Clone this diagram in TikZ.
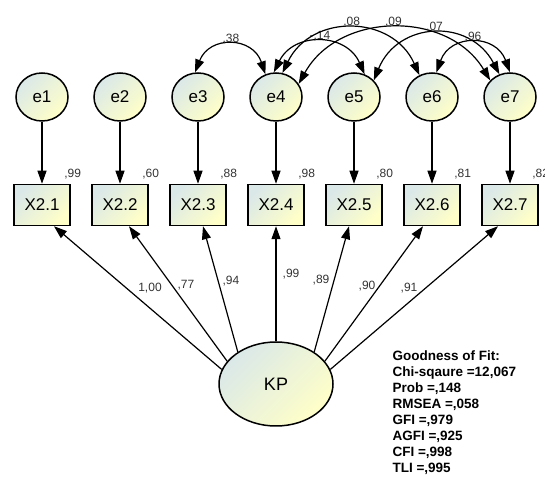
\documentclass[tikz,border=0pt]{standalone}
\usepackage{fontspec}
\setmainfont{Liberation Sans}
\usepackage{tikz}
\usetikzlibrary{shapes, positioning, arrows.meta}

\definecolor{amosblue}{RGB}{218,232,232}
\definecolor{amosyellow}{RGB}{255,255,200}

\tikzset{
    shaded/.style = {top color=amosblue, bottom color=amosyellow, shading angle=45},
    err/.style = {draw, ellipse, shaded, line width=1.5pt, minimum width=52pt, minimum height=48pt, inner sep=0pt, font=\fontsize{17}{17}\selectfont},
    obs/.style = {draw, rectangle, shaded, line width=1.5pt, minimum width=56pt, minimum height=41pt, inner sep=0pt, font=\fontsize{17}{17}\selectfont},
    lat/.style = {draw, ellipse, shaded, line width=1.5pt, minimum width=114pt, minimum height=84pt, inner sep=0pt, font=\fontsize{18}{18}\selectfont},
    lbl/.style = {inner sep=1pt, font=\fontsize{12}{12}\selectfont, text=black!80},
    gofbox/.style = {anchor=north west, align=left, inner sep=0pt, font=\fontsize{13.5}{16}\selectfont\bfseries}
}

\begin{document}
\begin{tikzpicture}[x=1pt, y=1pt, node distance={78pt}, line width=1.2pt, >={Triangle[length=13pt, width=9pt]}]
    \useasboundingbox (0,0) rectangle (545,481);

    % error terms
    \node[err] (e1) at (42,384) {e1};
    \node[err] (e2) [right of=e1] {e2};
    \node[err] (e3) [right of=e2] {e3};
    \node[err] (e4) [right of=e3] {e4};
    \node[err] (e5) [right of=e4] {e5};
    \node[err] (e6) [right of=e5] {e6};
    \node[err] (e7) [right of=e6] {e7};

    % indicators
    \node[obs] (x1) [node distance=108pt, below of=e1] {X2.1};
    \node[obs] (x2) [right of=x1] {X2.2};
    \node[obs] (x3) [right of=x2] {X2.3};
    \node[obs] (x4) [right of=x3] {X2.4};
    \node[obs] (x5) [right of=x4] {X2.5};
    \node[obs] (x6) [right of=x5] {X2.6};
    \node[obs] (x7) [right of=x6] {X2.7};

    \node[lat] (kp) at (276,97) {KP};

    % squared multiple correlations
    \node[lbl] (r1) [above right=3pt and -8pt of x1.north east] {,99};
    \node[lbl] (r2) [above right=3pt and -8pt of x2.north east] {,60};
    \node[lbl] (r3) [above right=3pt and -8pt of x3.north east] {,88};
    \node[lbl] (r4) [above right=3pt and -8pt of x4.north east] {,98};
    \node[lbl] (r5) [above right=3pt and -8pt of x5.north east] {,80};
    \node[lbl] (r6) [above right=3pt and -8pt of x6.north east] {,81};
    \node[lbl] (r7) [above right=3pt and -8pt of x7.north east] {,82};

    \draw[->] (e1) -- (x1);
    \draw[->] (e2) -- (x2);
    \draw[->] (e3) -- (x3);
    \draw[->] (e4) -- (x4);
    \draw[->] (e5) -- (x5);
    \draw[->] (e6) -- (x6);
    \draw[->] (e7) -- (x7);

    % loadings
    \draw[->] (kp.165) -- ([xshift=12pt]x1.south);
    \draw[->] (kp.155) -- ([xshift=9pt]x2.south);
    \draw[->] (kp.140) -- ([xshift=5pt]x3.south);
    \draw[->] (kp.90) -- (x4.south);
    \draw[->] (kp.40) -- ([xshift=-5pt]x5.south);
    \draw[->] (kp.25) -- ([xshift=-9pt]x6.south);
    \draw[->] (kp.15) -- ([xshift=-12pt]x7.south);

    \node[lbl] (l1) at (150,193) {1,00};
    \node[lbl] (l2) at (186,196) {,77};
    \node[lbl] (l3) at (231,200) {,94};
    \node[lbl] (l4) at (291,207) {,99};
    \node[lbl] (l5) at (321,201) {,89};
    \node[lbl] (l6) at (367,195) {,90};
    \node[lbl] (l7) at (409,193) {,91};

    % covariances between errors
    \draw[<->] (e3.97) to[bend left=70, looseness=1.45] node[lbl, above] (c34) {,38} (e4.115);
    \draw[<->] (e4.95) to[bend left=65, looseness=1.28] node[lbl, above] (c45) {-,14} (e5.65);
    \draw[<->] (e4.75) to[bend left=65, looseness=1.24] node[lbl, above] (c46) {,08} (e6.120);
    \draw[<->] (e4.30) to[bend left=60, looseness=1.1] node[lbl, above] (c47) {,09} (e7.140);
    \draw[<->] (e5.40) to[bend left=65, looseness=1.3] node[lbl, above] (c57) {,07} (e7.115);
    \draw[<->] (e6.80) to[bend left=70, looseness=1.43] node[lbl, above] (c67) {,96} (e7.90);

    \node[gofbox] (gof) at (392,131) {Goodness of Fit:\\Chi-sqaure =12,067\\Prob =,148\\RMSEA =,058\\GFI =,979\\AGFI =,925\\CFI =,998\\TLI =,995};
\end{tikzpicture}
\end{document}
